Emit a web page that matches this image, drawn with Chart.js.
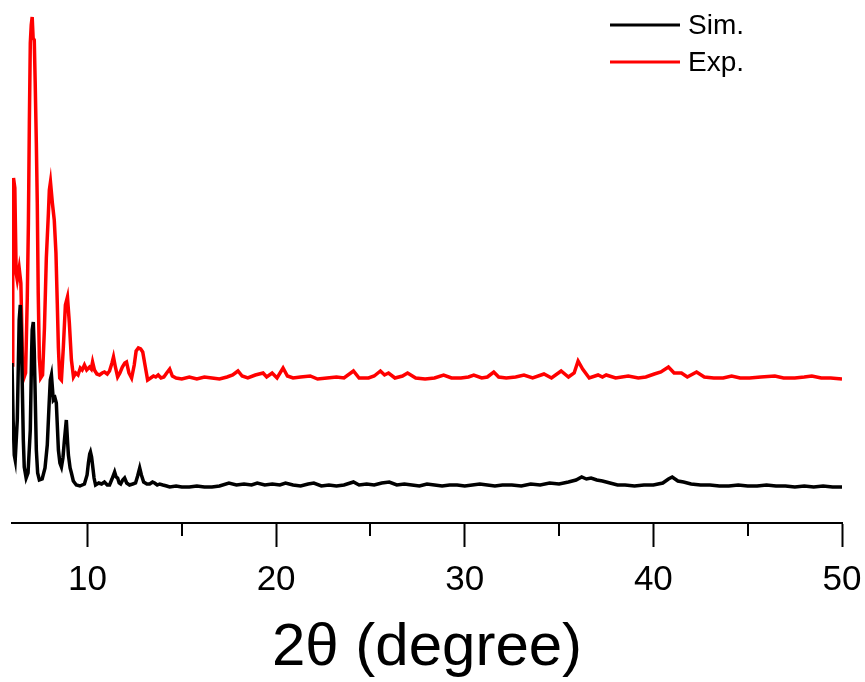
<!DOCTYPE html>
<html>
<head>
<meta charset="utf-8">
<script src="https://cdn.jsdelivr.net/npm/chart.js@4"></script>
<style>
  body { margin: 0; background: #fff; }
</style>
</head>
<body>
<canvas id="myChart" width="865" height="682"></canvas>
<script>
// 2theta positions and intensities (a.u.)
const simX = [6.00, 6.06, 6.12, 6.17, 6.28, 6.38, 6.44, 6.49, 6.60, 6.65, 6.75, 6.85, 6.97, 7.04, 7.07, 7.13, 7.18, 7.29, 7.36, 7.45,
  7.60, 7.75, 7.87, 7.97, 8.03, 8.09, 8.19, 8.28, 8.35, 8.46, 8.54, 8.62, 8.70, 8.78, 8.88, 8.95, 8.99, 9.08, 9.15, 9.25,
  9.41, 9.60, 9.84, 9.98, 10.05, 10.12, 10.16, 10.22, 10.27, 10.35, 10.43, 10.60, 10.75, 10.90, 11.05, 11.17, 11.30, 11.44, 11.52, 11.60,
  11.68, 11.76, 11.87, 11.97, 12.08, 12.23, 12.40, 12.55, 12.66, 12.77, 12.86, 12.98, 13.15, 13.30, 13.45, 13.56, 13.70, 13.83, 14.00, 14.20,
  14.36, 14.70, 15.00, 15.40, 15.80, 16.20, 16.60, 17.00, 17.50, 17.90, 18.30, 18.70, 19.00, 19.40, 19.80, 20.20, 20.50, 20.90, 21.30, 21.70,
  22.00, 22.40, 22.80, 23.20, 23.60, 24.10, 24.40, 24.80, 25.20, 25.60, 26.00, 26.40, 26.80, 27.20, 27.60, 28.00, 28.40, 28.80, 29.20, 29.60,
  30.00, 30.40, 30.80, 31.20, 31.60, 32.00, 32.50, 33.00, 33.50, 34.00, 34.50, 35.00, 35.50, 35.90, 36.20, 36.45, 36.70, 37.00, 37.30, 37.70,
  38.10, 38.50, 39.00, 39.50, 40.00, 40.50, 40.80, 41.00, 41.30, 41.60, 42.00, 42.50, 43.00, 43.50, 44.00, 44.50, 45.00, 45.50, 46.00, 46.50,
  47.00, 47.50, 48.00, 48.50, 49.00, 49.50, 50.00];
const simY = [160, 103, 68, 63, 103, 203, 218, 193, 83, 56, 45, 50, 93, 170, 193, 201, 173, 73, 50, 43,
  44, 55, 78, 120, 143, 148, 123, 125, 120, 73, 60, 56, 65, 83, 103, 80, 68, 55, 50, 42,
  38, 37, 39, 48, 60, 69, 71, 66, 58, 45, 38, 40, 39, 41, 38, 38, 44, 51, 46, 45,
  40, 39, 43, 45, 40, 38, 39, 40, 47, 55, 48, 41, 39, 39, 41, 40, 38, 39, 38, 37,
  36, 37, 36, 36, 37, 36, 36, 37, 40, 38, 39, 38, 40, 38, 39, 38, 40, 38, 37, 39,
  40, 37, 38, 37, 38, 41, 38, 39, 38, 40, 41, 38, 39, 38, 37, 39, 38, 37, 38, 38,
  37, 38, 39, 38, 37, 38, 38, 37, 39, 38, 40, 39, 41, 43, 46, 44, 45, 43, 42, 40,
  38, 38, 37, 38, 38, 40, 44, 46, 42, 41, 39, 38, 38, 37, 37, 38, 37, 37, 38, 37,
  37, 36, 37, 36, 37, 36, 36];

const expX = [6.00, 6.04, 6.08, 6.15, 6.22, 6.28, 6.38, 6.47, 6.56, 6.63, 6.72, 6.81, 6.87, 6.92, 6.97, 7.02, 7.07, 7.12, 7.18, 7.23,
  7.29, 7.34, 7.39, 7.45, 7.52, 7.62, 7.72, 7.82, 7.93, 7.98, 8.04, 8.14, 8.24, 8.33, 8.40, 8.46, 8.53, 8.62, 8.72, 8.83,
  8.94, 9.04, 9.15, 9.26, 9.38, 9.50, 9.62, 9.72, 9.84, 9.96, 10.11, 10.20, 10.27, 10.37, 10.50, 10.64, 10.78, 10.90, 11.05, 11.17,
  11.30, 11.38, 11.48, 11.60, 11.72, 11.85, 11.98, 12.07, 12.20, 12.34, 12.48, 12.58, 12.70, 12.82, 12.93, 13.05, 13.19, 13.35, 13.50, 13.62,
  13.75, 13.90, 14.05, 14.20, 14.36, 14.50, 14.70, 15.00, 15.40, 15.80, 16.20, 16.60, 17.00, 17.40, 17.70, 17.98, 18.20, 18.50, 18.90, 19.31,
  19.50, 19.79, 20.05, 20.37, 20.60, 20.90, 21.30, 21.81, 22.20, 22.70, 23.20, 23.60, 24.10, 24.40, 24.90, 25.20, 25.53, 25.75, 25.96, 26.30,
  26.70, 26.97, 27.40, 27.90, 28.40, 28.88, 29.30, 29.80, 30.20, 30.48, 30.90, 31.20, 31.54, 31.80, 32.20, 32.70, 33.14, 33.60, 34.20, 34.60,
  35.11, 35.50, 35.80, 36.01, 36.25, 36.60, 37.07, 37.30, 37.50, 38.00, 38.67, 39.20, 39.60, 40.05, 40.40, 40.80, 41.10, 41.49, 41.80, 42.29,
  42.70, 43.20, 43.70, 44.15, 44.60, 45.10, 45.70, 46.44, 46.90, 47.50, 48.00, 48.40, 48.90, 49.40, 50.00];
const expY = [158, 330, 345, 335, 250, 243, 255, 240, 160, 145, 150, 225, 300, 400, 480, 498, 506, 485, 483, 440,
  380, 320, 230, 165, 145, 148, 195, 265, 310, 333, 341, 320, 303, 270, 220, 175, 145, 143, 175, 218,
  226, 200, 163, 146, 150, 148, 155, 153, 158, 153, 156, 154, 161, 153, 149, 148, 150, 151, 149, 152,
  160, 166, 156, 146, 150, 156, 160, 161, 150, 145, 158, 172, 175, 174, 171, 158, 143, 145, 147, 146,
  148, 145, 146, 150, 154, 147, 145, 144, 146, 144, 146, 145, 144, 146, 148, 152, 147, 145, 148, 150,
  146, 150, 145, 155, 147, 145, 146, 147, 144, 145, 146, 145, 152, 145, 145, 147, 152, 148, 150, 145,
  147, 150, 145, 144, 145, 148, 145, 145, 146, 148, 145, 146, 151, 146, 145, 146, 148, 145, 149, 145,
  152, 146, 150, 162, 154, 145, 148, 146, 148, 145, 147, 145, 146, 149, 151, 156, 150, 150, 146, 151,
  146, 145, 145, 147, 145, 145, 146, 147, 145, 145, 146, 147, 145, 145, 144];

const seriesNames = ["Sim.", "Exp."];
const seriesColors = ["#000000", "#ff0000"];
const xTicks = [10, 20, 30, 40, 50];
const xMinorTicks = [15, 25, 35, 45];
const xTitle = "2θ (degree)";

const fontFamily = "'Liberation Sans', Arial, sans-serif";

const toPoints = (xs, ys) => xs.map((x, i) => ({ x: x, y: ys[i] }));

// short minor ticks + legend drawn on the canvas
const extras = {
  id: "extras",
  afterDraw(chart) {
    const ctx = chart.ctx;
    const xs = chart.scales.x;
    ctx.save();
    ctx.strokeStyle = "#000";
    ctx.lineWidth = 2;
    xMinorTicks.forEach(v => {
      const px = Math.round(xs.getPixelForValue(v));
      ctx.beginPath();
      ctx.moveTo(px, xs.top);
      ctx.lineTo(px, xs.top + 13);
      ctx.stroke();
    });

    ctx.font = "28px " + fontFamily;
    ctx.textBaseline = "middle";
    ctx.textAlign = "left";
    seriesNames.forEach((name, i) => {
      const y = 25 + i * 37;
      ctx.strokeStyle = seriesColors[i];
      ctx.lineWidth = 3;
      ctx.beginPath();
      ctx.moveTo(610, y);
      ctx.lineTo(680, y);
      ctx.stroke();
      ctx.fillStyle = "#000";
      ctx.fillText(name, 688, y + 1);
    });
    ctx.restore();
  }
};

const config = {
  type: "line",
  data: {
    datasets: [
      {
        label: seriesNames[0],
        data: toPoints(simX, simY),
        borderColor: seriesColors[0],
        borderWidth: 3.5,
        pointRadius: 0,
        tension: 0
      },
      {
        label: seriesNames[1],
        data: toPoints(expX, expY),
        borderColor: seriesColors[1],
        borderWidth: 3.5,
        pointRadius: 0,
        tension: 0
      }
    ]
  },
  options: {
    responsive: false,
    animation: false,
    layout: { padding: { left: 12, right: 23, top: 0, bottom: 0 } },
    plugins: {
      legend: { display: false },
      tooltip: { enabled: false }
    },
    scales: {
      x: {
        type: "linear",
        position: "bottom",
        min: 6,
        max: 50,
        afterBuildTicks: (scale) => {
          scale.ticks = xTicks.map(v => ({ value: v }));
        },
        afterFit: (scale) => {
          scale.height = 159;
          scale.paddingLeft = 0;
          scale.paddingRight = 0;
        },
        ticks: {
          color: "#000",
          padding: 12,
          maxRotation: 0,
          autoSkip: false,
          font: { family: fontFamily, size: 35 }
        },
        grid: {
          drawOnChartArea: false,
          drawTicks: true,
          tickLength: 24,
          tickWidth: 2,
          tickColor: "#000"
        },
        border: { display: true, color: "#000", width: 2 },
        title: {
          display: true,
          text: xTitle,
          color: "#000",
          padding: 0,
          font: { family: fontFamily, size: 60, lineHeight: 1.12 }
        }
      },
      y: {
        display: false,
        min: 0,
        max: 523
      }
    }
  },
  plugins: [extras]
};

const myChart = new Chart(document.getElementById("myChart"), config);
</script>
</body>
</html>
